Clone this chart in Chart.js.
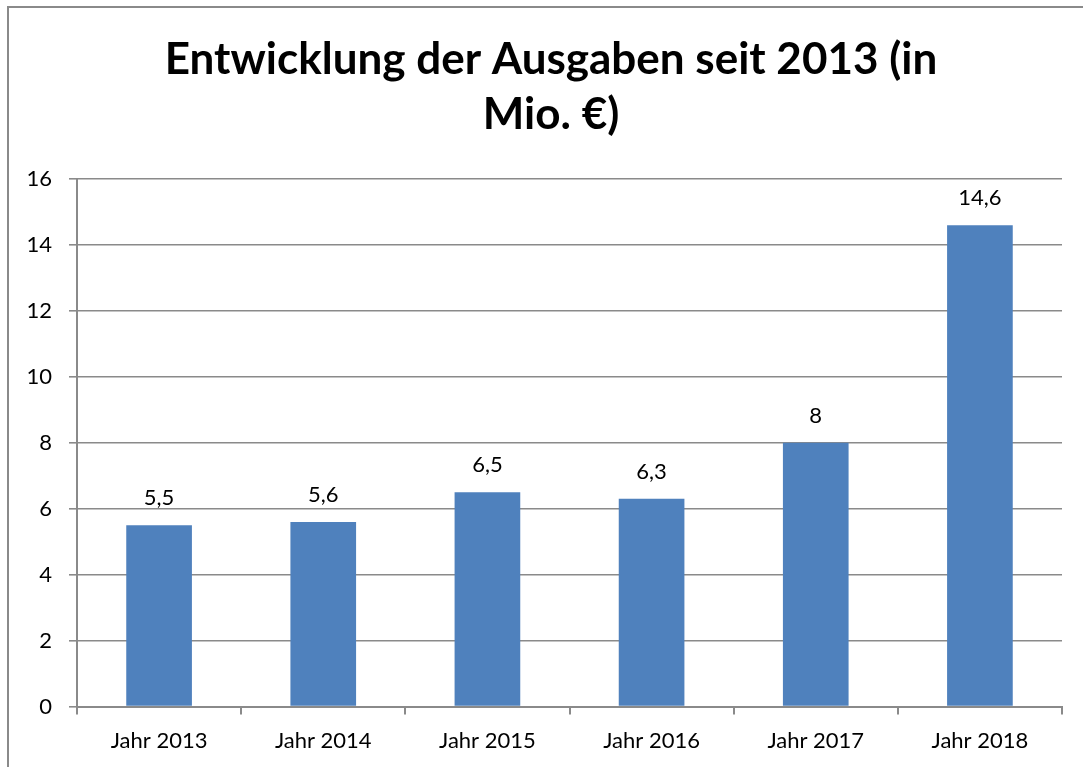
<!DOCTYPE html>
<html>
<head>
<meta charset="utf-8">
<script src="https://cdn.jsdelivr.net/npm/chart.js@4/dist/chart.umd.min.js"></script>
<style>
  html, body { margin: 0; padding: 0; background: #fff; overflow: hidden; }
  #frame {
    position: absolute; left: 7px; top: 6px; width: 1100px; height: 800px;
    border-left: 2px solid #8a8a8a; border-top: 2px solid #8a8a8a;
  }
  #chart { position: absolute; left: 0; top: 0; }
</style>
</head>
<body>
<div id="frame"></div>
<canvas id="chart" width="1083" height="767"></canvas>
<script>
const categories = ["Jahr 2013", "Jahr 2014", "Jahr 2015", "Jahr 2016", "Jahr 2017", "Jahr 2018"];
const expenses = [5.5, 5.6, 6.5, 6.3, 8, 14.6];
const titleLines = ["Entwicklung der Ausgaben seit 2013 (in", "Mio. €)"];

const fontFamily = "Lato, 'Open Sans', sans-serif";
const gridColor = "#8a8a8a";

// value labels above the bars, German decimal comma
const barLabels = {
  id: "barLabels",
  afterLayout(chart) {
    // title sits a bit right of the canvas centre in the original
    if (chart.titleBlock) {
      chart.titleBlock.left += 20;
      chart.titleBlock.right += 20;
    }
  },
  afterDatasetsDraw(chart) {
    const ctx = chart.ctx;
    const meta = chart.getDatasetMeta(0);
    ctx.save();
    ctx.font = "22px " + fontFamily;
    ctx.fillStyle = "#000";
    ctx.textAlign = "center";
    ctx.textBaseline = "middle";
    meta.data.forEach((bar, i) => {
      const txt = expenses[i].toLocaleString("de-DE");
      ctx.fillText(txt, bar.x, bar.y - 27);
    });
    ctx.restore();
  }
};

new Chart(document.getElementById("chart"), {
  type: "bar",
  data: {
    labels: categories,
    datasets: [{
      data: expenses,
      backgroundColor: "#4f81bd",
      borderWidth: 0,
      barPercentage: 0.4,
      categoryPercentage: 1.0
    }]
  },
  options: {
    responsive: false,
    animation: false,
    devicePixelRatio: 1,
    layout: { padding: { top: 32, left: 0, right: 21, bottom: 0 } },
    plugins: {
      legend: { display: false },
      tooltip: { enabled: false },
      title: {
        display: true,
        text: titleLines,
        color: "#000",
        font: { family: fontFamily, size: 44, weight: "bold", lineHeight: 1.25 },
        padding: { top: 0, bottom: 37 }
      }
    },
    scales: {
      x: {
        grid: {
          display: true,
          drawOnChartArea: false,
          drawTicks: true,
          tickLength: 8,
          tickColor: gridColor,
          lineWidth: 2
        },
        border: { color: gridColor, width: 2 },
        ticks: {
          color: "#000",
          padding: 13,
          font: { family: fontFamily, size: 22 },
          maxRotation: 0
        }
      },
      y: {
        min: 0,
        max: 16,
        afterFit(scale) { scale.width = 77; },
        grid: {
          color: gridColor,
          lineWidth: 1.6,
          tickLength: 8,
          tickColor: gridColor
        },
        border: { color: gridColor, width: 2 },
        ticks: {
          stepSize: 2,
          color: "#000",
          padding: 17,
          font: { family: fontFamily, size: 22 }
        }
      }
    }
  },
  plugins: [barLabels]
});
</script>
</body>
</html>
